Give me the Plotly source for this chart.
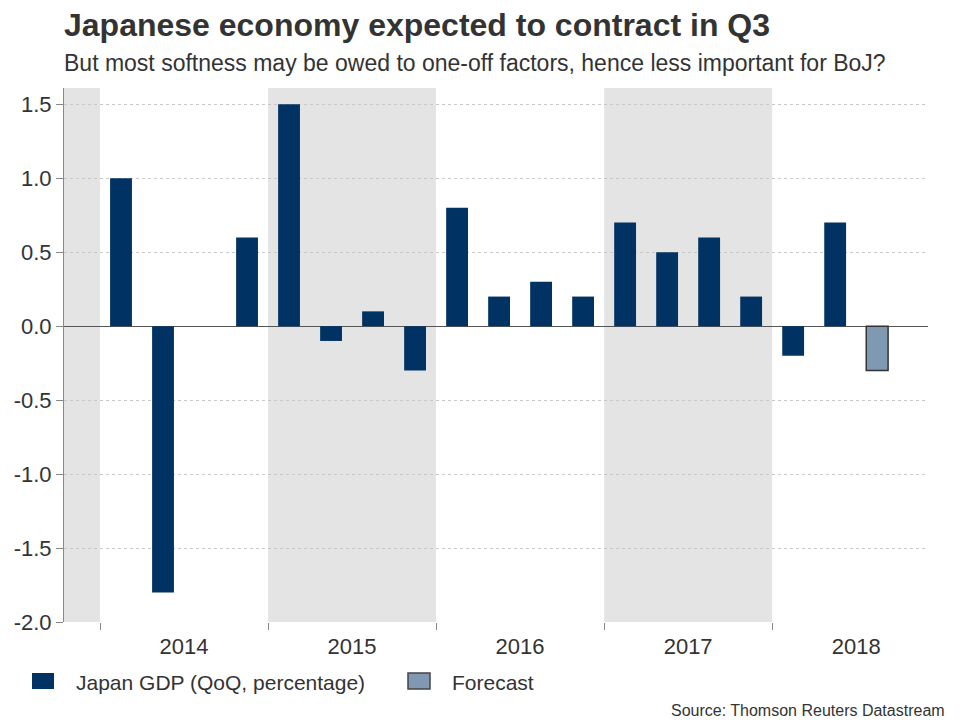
import plotly.graph_objects as go

# ---- data ----
quarters = ["2014Q1", "2014Q2", "2014Q3", "2014Q4",
            "2015Q1", "2015Q2", "2015Q3", "2015Q4",
            "2016Q1", "2016Q2", "2016Q3", "2016Q4",
            "2017Q1", "2017Q2", "2017Q3", "2017Q4",
            "2018Q1", "2018Q2"]
gdp_values = [1.0, -1.8, 0.0, 0.6,
              1.5, -0.1, 0.1, -0.3,
              0.8, 0.2, 0.3, 0.2,
              0.7, 0.5, 0.6, 0.2,
              -0.2, 0.7]
forecast_quarters = ["2018Q3"]
forecast_values = [-0.3]
years = [2014, 2015, 2016, 2017, 2018]
shaded_years = [2013, 2015, 2017]
y_ticks = [-2.0, -1.5, -1.0, -0.5, 0.0, 0.5, 1.0, 1.5]
y_ticktext = ["-2.0", "-1.5", "-1.0", "-0.5", "0.0", "0.5", "1.0", "1.5"]

BASE_YEAR = 2014


def qpos(q):
    y, n = int(q[:4]), int(q[-1])
    return (y - BASE_YEAR) * 4 + (n - 1)


x_main = [qpos(q) for q in quarters]
x_fc = [qpos(q) for q in forecast_quarters]
x_range = [-1.357, 19.21]
y_range = [-2.0, 1.61]

navy = "#003263"
fc_col = "#7f99b2"
txt = "#333333"

fig = go.Figure()
fig.add_trace(go.Bar(x=x_main, y=gdp_values, name="Japan GDP (QoQ, percentage)",
                     marker=dict(color=navy, line=dict(width=0)), width=0.52,
                     showlegend=False))
fig.add_trace(go.Bar(x=x_fc, y=forecast_values, name="Forecast",
                     marker=dict(color=fc_col, line=dict(color="#333333", width=1.5)),
                     width=0.52, showlegend=False))

shapes = []
for yr in shaded_years:
    x0 = max((yr - BASE_YEAR) * 4 - 0.5, x_range[0])
    x1 = min((yr - BASE_YEAR) * 4 + 3.5, x_range[1])
    shapes.append(dict(type="rect", xref="x", yref="y", x0=x0, x1=x1,
                       y0=y_range[0], y1=y_range[1], fillcolor="#e4e4e4",
                       line=dict(width=0), layer="below"))

# plot area in pixels: left 64, right 928, top 88, bottom 622
PW, PH = 864.0, 534.0


def px_x(p):
    return (p - 64) / PW


def px_y(p):
    return (622 - p) / PH


annotations = [
    dict(text="<b>Japanese economy expected to contract in Q3</b>", xref="paper",
         yref="paper", x=px_x(62), y=px_y(25), xanchor="left", yanchor="middle",
         showarrow=False, font=dict(size=32, color=txt)),
    dict(text="But most softness may be owed to one-off factors, hence less important for BoJ?",
         xref="paper", yref="paper", x=px_x(62), y=px_y(63), xanchor="left",
         yanchor="middle", showarrow=False, font=dict(size=23, color=txt)),
    dict(text="Source: Thomson Reuters Datastream", xref="paper", yref="paper",
         x=px_x(947), y=px_y(710), xanchor="right", yanchor="middle",
         showarrow=False, font=dict(size=16, color=txt)),
]

# legend (manual swatches so their size matches)
legend_items = [(fig.data[0].name, navy, None, 32), (fig.data[1].name, fc_col, "#444444", 408)]
for name, col, lc, lx in legend_items:
    shapes.append(dict(type="rect", xref="paper", yref="paper",
                       x0=px_x(lx), x1=px_x(lx + 22), y0=px_y(689), y1=px_y(673),
                       fillcolor=col,
                       line=dict(color=lc if lc else col, width=1.5 if lc else 0)))
    annotations.append(dict(text=name, xref="paper", yref="paper", x=px_x(lx + 42),
                            y=px_y(682), xanchor="left", yanchor="middle",
                            showarrow=False, font=dict(size=21, color=txt)))

year_centers = [(y - BASE_YEAR) * 4 + 1.5 for y in years]
year_bounds = [(y - BASE_YEAR) * 4 - 0.5 for y in years]

fig.update_layout(
    width=960, height=720,
    paper_bgcolor="white", plot_bgcolor="white",
    margin=dict(l=64, r=32, t=88, b=98, autoexpand=False),
    font=dict(family="Liberation Sans, Arial, sans-serif", color=txt, size=20),
    shapes=shapes,
    annotations=annotations,
    barmode="overlay",
    showlegend=False,
    xaxis=dict(range=x_range, tickmode="array", tickvals=year_centers,
               ticktext=[str(y) for y in years], ticks="", showgrid=False,
               zeroline=False, showline=False, automargin=False,
               ticklabelstandoff=9,
               tickfont=dict(size=22, color=txt),
               minor=dict(tickmode="array", tickvals=year_bounds, ticks="outside",
                          ticklen=7, tickcolor="#888888", tickwidth=1, showgrid=False)),
    yaxis=dict(range=y_range, tickmode="array", tickvals=y_ticks, ticktext=y_ticktext,
               ticks="outside", ticklen=7, tickcolor="#888888", automargin=False,
               showgrid=True, gridcolor="#c8c8c8", griddash="dot", gridwidth=1,
               zeroline=True, zerolinecolor="#555555", zerolinewidth=1,
               showline=True, linecolor="#888888", linewidth=1,
               tickfont=dict(size=22, color=txt)),
)

fig.write_html("out.html", config={"displayModeBar": False},
               post_script="document.body.style.margin='0';document.body.style.overflow='hidden';")
